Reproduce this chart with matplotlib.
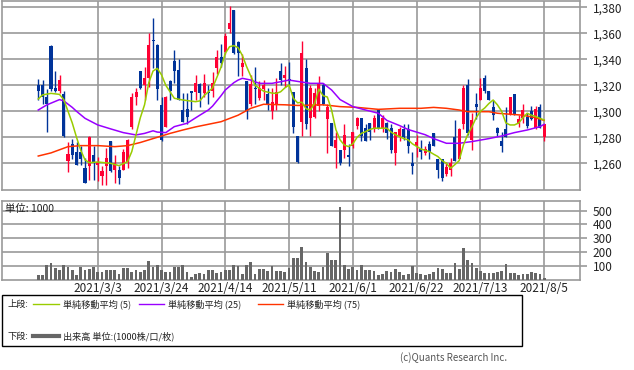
import matplotlib
matplotlib.use("Agg")
import matplotlib.pyplot as plt
from matplotlib.lines import Line2D
from matplotlib.patches import Rectangle

plt.rcParams['font.family'] = ['Noto Sans CJK JP', 'DejaVu Sans']

# ---- data (daily candles, index = trading day) ----
opens = [1320, 1320, 1311, 1350, 1318, 1316, 1313, 1262, 1275, 1269,
         1269, 1256, 1258, 1266, 1259, 1250, 1258, 1277, 1255, 1255,
         1255, 1261, 1288, 1311, 1331, 1320, 1326, 1355, 1351, 1305,
         1288, 1323, 1339, 1332, 1301, 1302, 1316, 1315, 1321, 1314,
         1315, 1316, 1333, 1342, 1346, 1363, 1378, 1353, 1334, 1323,
         1306, 1318, 1310, 1317, 1313, 1300, 1306, 1331, 1326, 1325,
         1315, 1281, 1292, 1333, 1295, 1296, 1304, 1320, 1294, 1291,
         1272, 1270, 1270, 1266, 1273, 1289, 1295, 1287, 1291, 1286,
         1302, 1287, 1291, 1287, 1268, 1281, 1286, 1286, 1260, 1273,
         1271, 1268, 1275, 1283, 1263, 1263, 1252, 1255, 1280, 1263,
         1290, 1320, 1278, 1306, 1309, 1326, 1316, 1303, 1287, 1277,
         1286, 1298, 1313, 1290, 1295, 1296, 1300, 1287, 1303, 1280]
highs = [1325, 1324, 1317, 1351, 1331, 1328, 1316, 1276, 1279, 1276,
         1273, 1264, 1281, 1273, 1265, 1258, 1272, 1277, 1266, 1258,
         1271, 1279, 1314, 1318, 1331, 1334, 1360, 1372, 1352, 1311,
         1312, 1324, 1347, 1340, 1314, 1314, 1316, 1328, 1322, 1329,
         1320, 1330, 1347, 1352, 1360, 1381, 1378, 1354, 1344, 1323,
         1328, 1334, 1323, 1324, 1318, 1318, 1326, 1337, 1335, 1338,
         1315, 1281, 1354, 1340, 1320, 1318, 1327, 1322, 1306, 1291,
         1284, 1270, 1290, 1275, 1284, 1296, 1295, 1290, 1291, 1297,
         1302, 1297, 1292, 1290, 1284, 1288, 1290, 1290, 1269, 1282,
         1278, 1273, 1277, 1283, 1263, 1263, 1261, 1264, 1293, 1287,
         1320, 1325, 1299, 1314, 1326, 1328, 1316, 1309, 1288, 1284,
         1303, 1311, 1313, 1297, 1306, 1299, 1304, 1304, 1306, 1290]
lows = [1309, 1306, 1284, 1316, 1315, 1314, 1280, 1253, 1263, 1259,
        1259, 1245, 1247, 1247, 1246, 1243, 1243, 1253, 1245, 1244,
        1255, 1256, 1286, 1305, 1317, 1309, 1319, 1333, 1309, 1277,
        1288, 1309, 1322, 1309, 1292, 1290, 1301, 1309, 1303, 1311,
        1306, 1311, 1329, 1334, 1344, 1360, 1344, 1327, 1327, 1294,
        1304, 1306, 1309, 1309, 1301, 1294, 1301, 1320, 1319, 1320,
        1283, 1260, 1281, 1286, 1281, 1295, 1300, 1305, 1268, 1273,
        1256, 1259, 1264, 1258, 1272, 1286, 1277, 1277, 1278, 1284,
        1286, 1284, 1279, 1268, 1259, 1277, 1278, 1268, 1252, 1265,
        1263, 1266, 1263, 1273, 1249, 1246, 1250, 1250, 1262, 1263,
        1286, 1282, 1270, 1294, 1309, 1314, 1309, 1293, 1281, 1269,
        1280, 1297, 1297, 1288, 1291, 1287, 1293, 1286, 1287, 1277]
closes = [1316, 1311, 1306, 1317, 1316, 1324, 1281, 1267, 1266, 1259,
          1263, 1245, 1280, 1260, 1261, 1254, 1264, 1254, 1260, 1249,
          1269, 1278, 1311, 1315, 1318, 1326, 1351, 1354, 1317, 1278,
          1311, 1316, 1331, 1309, 1292, 1296, 1314, 1322, 1314, 1322,
          1314, 1322, 1342, 1337, 1358, 1368, 1345, 1345, 1337, 1300,
          1321, 1317, 1318, 1320, 1306, 1307, 1315, 1324, 1328, 1323,
          1288, 1261, 1345, 1290, 1318, 1314, 1322, 1306, 1303, 1273,
          1278, 1260, 1282, 1265, 1284, 1295, 1281, 1277, 1284, 1295,
          1287, 1295, 1283, 1270, 1284, 1286, 1280, 1273, 1258, 1276,
          1269, 1271, 1269, 1273, 1255, 1249, 1257, 1260, 1262, 1286,
          1318, 1283, 1293, 1303, 1318, 1316, 1309, 1297, 1283, 1273,
          1280, 1311, 1298, 1294, 1301, 1289, 1294, 1302, 1287, 1290]
volume = [36, 36, 110, 121, 83, 69, 110, 90, 69, 36,
          90, 69, 79, 90, 60, 60, 69, 74, 69, 45,
          83, 83, 60, 69, 60, 69, 138, 90, 110, 69,
          60, 55, 90, 90, 110, 55, 24, 40, 50, 45,
          69, 69, 50, 55, 69, 69, 107, 98, 45, 107,
          131, 45, 79, 79, 64, 102, 64, 64, 55, 83,
          155, 160, 238, 131, 90, 67, 60, 95, 193, 145,
          145, 524, 105, 80, 95, 70, 105, 70, 70, 62,
          36, 45, 62, 60, 76, 55, 36, 45, 100, 50,
          40, 33, 45, 60, 88, 80, 52, 52, 120, 80,
          230, 145, 125, 88, 62, 50, 50, 50, 55, 62,
          117, 50, 50, 33, 45, 40, 55, 48, 40, 10]

# moving averages: (trading-day index, value)
ma5_idx = [0, 1, 3, 5, 6, 7, 8, 9, 10, 11, 12, 14, 17, 19, 21, 22, 23, 24, 25, 26,
           27, 28, 29, 30, 32, 34, 37, 38, 39, 40, 41, 42, 43, 44, 45, 46, 47, 48, 49, 50,
           51, 52, 53, 55, 56, 57, 58, 59, 60, 61, 62, 63, 64, 65, 66, 67, 68, 69, 70, 71,
           72, 73, 74, 75, 76, 77, 78, 79, 82, 83, 84, 85, 86, 87, 88, 89, 90, 91, 92, 93,
           94, 95, 96, 97, 98, 99, 100, 101, 102, 103, 104, 105, 106, 107, 108, 109, 110, 111, 112, 113,
           114, 115, 116, 117, 118, 119]
ma5_val = [1309.5, 1312.6, 1313.8, 1313, 1309, 1300, 1291, 1280, 1270, 1262.6, 1260.5, 1261, 1260, 1258.2, 1261.3, 1269, 1282, 1295, 1305, 1322,
           1331, 1333, 1328, 1320, 1310, 1308.7, 1307.4, 1308, 1312, 1315, 1318, 1326, 1334, 1344.6, 1349.7, 1350.5, 1349, 1343, 1334.4, 1327,
           1320, 1317.7, 1315.5, 1314, 1313.8, 1315, 1318, 1320.3, 1310, 1306.5, 1307, 1302, 1301, 1306, 1317, 1312, 1311, 1301, 1286, 1278,
           1274, 1272.8, 1275, 1280, 1283, 1284.4, 1286, 1287, 1287, 1284, 1282, 1280.5, 1279, 1278, 1275, 1273, 1271, 1270, 1269, 1267,
           1265.2, 1262, 1260, 1256.2, 1259, 1262, 1274, 1282, 1288, 1295, 1300, 1302.5, 1306, 1308.7, 1305, 1300, 1291, 1289.5, 1289.5, 1291,
           1295, 1298.5, 1297, 1296, 1294.6, 1293.3]
ma25_idx = [0, 2, 5, 6, 8, 9, 11, 14, 17, 20, 23, 25, 27, 28, 30, 32, 35, 38, 40, 41,
            42, 43, 44, 46, 47, 48, 50, 52, 55, 59, 61, 64, 67, 69, 71, 74, 77, 80, 82, 85,
            87, 89, 91, 93, 96, 99, 102, 106, 109, 112, 115, 118, 119]
ma25_val = [1301, 1304.9, 1309, 1308, 1303, 1300, 1294.6, 1289.5, 1286.5, 1283.6, 1281.8, 1283, 1285, 1284, 1283.6, 1288.2, 1290.8, 1297, 1301, 1304,
            1308, 1312, 1316.4, 1322, 1324, 1325.4, 1324, 1321.5, 1321.5, 1324, 1323, 1321.5, 1321.5, 1316.4, 1309, 1303.6, 1301, 1298.5, 1293, 1289,
            1286, 1284, 1282, 1279, 1275.4, 1275.4, 1276.7, 1279, 1281, 1283.6, 1285.6, 1288.2, 1290]
ma75_idx = [0, 3, 7, 10, 14, 18, 21, 24, 28, 31, 34, 37, 40, 43, 47, 50, 53, 58, 61, 67,
            71, 75, 80, 85, 90, 93, 96, 99, 101, 106, 108, 114, 117, 119]
ma75_val = [1265.6, 1268, 1272.8, 1273.6, 1273.6, 1272.8, 1273.6, 1276, 1280, 1283, 1285.6, 1288, 1290, 1292, 1297, 1302.3, 1305.4, 1305, 1304.5, 1305,
            1303.6, 1303, 1301.5, 1302.3, 1302.3, 1303, 1302.3, 1301, 1299.7, 1299.7, 1298.5, 1297, 1295, 1293]

date_labels = ['2021/3/3', '2021/3/24', '2021/4/14', '2021/5/11',
               '2021/6/1', '2021/6/22', '2021/7/13', '2021/8/5']
date_label_idx = [14, 29, 44, 59, 74, 89, 104, 119]
price_ticks = [1260, 1280, 1300, 1320, 1340, 1360, 1380]
volume_ticks = [100, 200, 300, 400, 500]

# ---- styling ----
W, H = 634, 370
UP = '#ff0033'
DOWN = '#003399'
GRID = '#9a9a9a'
C5, C25, C75 = '#99cc00', '#9900ff', '#ff3300'
TXT = '#222222'

fig = plt.figure(figsize=(W / 100, H / 100), dpi=100)


def axrect(x0, y0, x1, y1):
    return [x0 / W, 1 - y1 / H, (x1 - x0) / W, (y1 - y0) / H]


ax = fig.add_axes(axrect(1.7, 0.7, 580.3, 190))
axv = fig.add_axes(axrect(1.7, 201, 580.3, 280.3))

n = len(closes)
xs = list(range(n))

for a in (ax, axv):
    a.set_xlim(-8.6, 127.5)
    for s in a.spines.values():
        s.set_color(GRID)
        s.set_linewidth(1.2)
    a.set_xticks(date_label_idx)
    a.grid(True, color=GRID, linewidth=1.2)
    a.set_axisbelow(True)
    a.yaxis.tick_right()
    a.tick_params(axis='y', length=5, color=GRID, width=1.2, pad=4,
                  labelsize=8.5, labelcolor=TXT)
    a.tick_params(axis='x', length=0)

# price panel
ax.set_ylim(1239.46, 1385.08)
ax.set_yticks(price_ticks)
ax.set_yticklabels([f'{v:,}' for v in price_ticks])
ax.set_xticklabels([])

cols = [UP if c >= o else DOWN for o, c in zip(opens, closes)]
ax.vlines(xs, lows, highs, colors=cols, linewidth=1.0, zorder=2)
bottoms = [min(o, c) for o, c in zip(opens, closes)]
heights = [max(abs(c - o), 0.8) for o, c in zip(opens, closes)]
ax.bar(xs, heights, bottom=bottoms, width=0.72, color=cols, linewidth=0, zorder=3)

ax.plot(ma75_idx, ma75_val, color=C75, lw=1.1, zorder=4)
ax.plot(ma25_idx, ma25_val, color=C25, lw=1.1, zorder=4)
ax.plot(ma5_idx, ma5_val, color=C5, lw=1.1, zorder=5)

# volume panel
axv.set_ylim(-3, 569)
axv.set_yticks(volume_ticks)
axv.set_yticklabels([str(v) for v in volume_ticks])
axv.bar(xs, volume, width=0.65, color='#666666', linewidth=0, zorder=3)
axv.set_xticklabels(date_labels, fontsize=8.5, color=TXT)
axv.tick_params(axis='x', pad=1.5)
axv.text(0.006, 0.9, '単位: 1000', transform=axv.transAxes, fontsize=7.5,
         va='center', ha='left', color=TXT)

# legend box
fig.add_artist(Rectangle((2 / W, 1 - 346 / H), 520 / W, 51 / H, transform=fig.transFigure,
                         fill=False, ec='black', lw=1))


def fx(x):
    return x / W


def fy(y):
    return 1 - y / H


fs = 6.6
fig.text(fx(8), fy(304), '上段:', fontsize=fs, va='center', ha='left', color=TXT)
fig.add_artist(Line2D([fx(33), fx(59)], [fy(304), fy(304)], color=C5, lw=1.0))
fig.text(fx(63), fy(304), '単純移動平均 (5)', fontsize=fs, va='center', ha='left', color=TXT)
fig.add_artist(Line2D([fx(139), fx(164)], [fy(304), fy(304)], color=C25, lw=1.0))
fig.text(fx(168), fy(304), '単純移動平均 (25)', fontsize=fs, va='center', ha='left', color=TXT)
fig.add_artist(Line2D([fx(258), fx(283)], [fy(304), fy(304)], color=C75, lw=1.0))
fig.text(fx(287), fy(304), '単純移動平均 (75)', fontsize=fs, va='center', ha='left', color=TXT)

fig.text(fx(8), fy(336), '下段:', fontsize=fs, va='center', ha='left', color=TXT)
fig.add_artist(Line2D([fx(33), fx(59)], [fy(336), fy(336)], color='#666666', lw=3))
fig.text(fx(63), fy(336), '出来高 単位:(1000株/口/枚)', fontsize=fs, va='center', ha='left', color=TXT)

fig.text(fx(507), fy(358), '(c)Quants Research Inc.', fontsize=7, va='center', ha='right',
         color='#555555')

fig.savefig('out.png', dpi=100)
